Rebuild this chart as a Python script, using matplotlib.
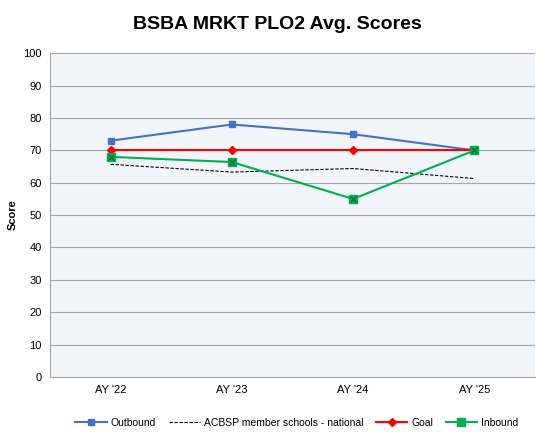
import matplotlib.pyplot as plt
from matplotlib.lines import Line2D

years = ["AY '22", "AY '23", "AY '24", "AY '25"]
outbound = [73, 78, 75, 70]
acbsp = [65.7, 63.3, 64.4, 61.3]
goal = [70, 70, 70, 70]
inbound = [68, 66.4, 55, 70]

plt.rcParams['font.family'] = ['Liberation Sans', 'DejaVu Sans']
fig = plt.figure(figsize=(5.55, 4.44), dpi=100)
ax = fig.add_axes([0.09, 0.151, 0.874, 0.729])
ax.set_facecolor('#F2F6FA')
x = range(len(years))

ax.plot(x, outbound, color='#4472C4', lw=1.5, marker='s', ms=5, zorder=3)
ax.plot(x, acbsp, color='black', lw=0.8, ls=(0, (3, 1.5)), zorder=3)
ax.plot(x, goal, color='#FF0000', lw=1.5, marker='D', ms=4, zorder=3)
ax.plot(x, inbound, color='#00B050', lw=1.5, marker='s', ms=6, zorder=3)
ax.plot(x, inbound, ls='none', color='#1E6B3A', marker='x', ms=4, mew=1, zorder=4)

ax.set_xlim(-0.5, 3.5)
ax.set_ylim(0, 100)
ax.set_yticks(range(0, 101, 10))
ax.set_xticks(list(x))
ax.set_xticklabels(years)
ax.grid(axis='y', color='#A6A6A6', lw=0.8)
ax.set_axisbelow(True)
for s in ['top', 'right']:
    ax.spines[s].set_visible(False)
for s in ['left', 'bottom']:
    ax.spines[s].set_color('#A6A6A6')
ax.tick_params(length=0, labelsize=8, pad=6)
ax.set_ylabel('Score', fontsize=8, fontweight='bold')
fig.suptitle('BSBA MRKT PLO2 Avg. Scores', fontsize=14, fontweight='bold', y=0.965)

handles = [
    Line2D([], [], color='#4472C4', lw=1.5, marker='s', ms=5),
    Line2D([], [], color='black', lw=0.8, ls=(0, (3, 1.5))),
    Line2D([], [], color='#FF0000', lw=1.5, marker='D', ms=4),
    Line2D([], [], color='#00B050', lw=1.5, marker='s', ms=6),
]
fig.legend(handles, ['Outbound', 'ACBSP member schools - national', 'Goal', 'Inbound'],
           loc='center', bbox_to_anchor=(0.535, 0.047), ncol=4, frameon=False,
           fontsize=7.5, handlelength=3.0, columnspacing=1.2, handletextpad=0.4)

fig.savefig('out.png', dpi=100)
